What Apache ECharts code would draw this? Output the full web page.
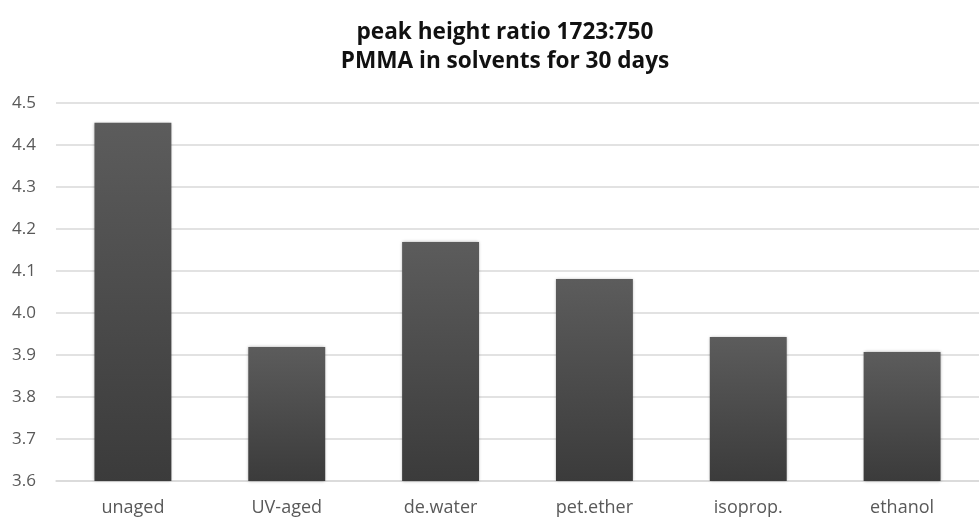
<!DOCTYPE html>
<html>
<head>
<meta charset="utf-8">
<script src="https://cdn.jsdelivr.net/npm/echarts@6/dist/echarts.min.js"></script>
<style>
  html, body { margin: 0; padding: 0; background: #fff; }
  #chart { width: 979px; height: 517px; }
</style>
</head>
<body>
<div id="chart"></div>
<script>
// Peak height ratio 1723:750 for PMMA samples
const categories = ['unaged', 'UV-aged', 'de.water', 'pet.ether', 'isoprop.', 'ethanol'];
const ratios = [4.453, 3.919, 4.169, 4.081, 3.943, 3.907];
const yTicks = { min: 3.6, max: 4.5, step: 0.1 };

const chart = echarts.init(document.getElementById('chart'), null, { renderer: 'canvas' });
chart.setOption({
  animation: false,
  backgroundColor: '#ffffff',
  title: {
    text: 'peak height ratio 1723:750\nPMMA in solvents for 30 days',
    left: 500,
    textAlign: 'center',
    top: 13,
    textStyle: {
      fontFamily: 'Open Sans',
      fontWeight: 'bold',
      fontSize: 22.6,
      lineHeight: 29,
      color: '#111'
    }
  },
  grid: { left: 56, right: -12, top: 103, bottom: 36, containLabel: false },
  xAxis: {
    type: 'category',
    data: categories,
    axisLine: { show: true, lineStyle: { color: '#d9d9d9', width: 1.5 } },
    axisTick: { show: false },
    axisLabel: {
      fontFamily: 'Open Sans',
      fontSize: 18,
      color: '#595959',
      margin: 18
    }
  },
  yAxis: {
    type: 'value',
    min: yTicks.min,
    max: yTicks.max,
    interval: yTicks.step,
    axisLine: { show: false },
    axisTick: { show: false },
    splitLine: { lineStyle: { color: '#d9d9d9', width: 1.5 } },
    axisLabel: {
      fontFamily: 'Open Sans',
      fontSize: 17,
      color: '#595959',
      margin: 20,
      formatter: v => v.toFixed(1)
    }
  },
  series: [{
    type: 'bar',
    data: ratios,
    barWidth: '50%',
    itemStyle: {
      color: new echarts.graphic.LinearGradient(0, 0, 0, 1, [
        { offset: 0, color: '#5c5c5c' },
        { offset: 1, color: '#3b3b3b' }
      ]),
      shadowColor: 'rgba(0,0,0,0.35)',
      shadowBlur: 3,
      shadowOffsetX: 0,
      shadowOffsetY: 0
    }
  }]
});
</script>
</body>
</html>
